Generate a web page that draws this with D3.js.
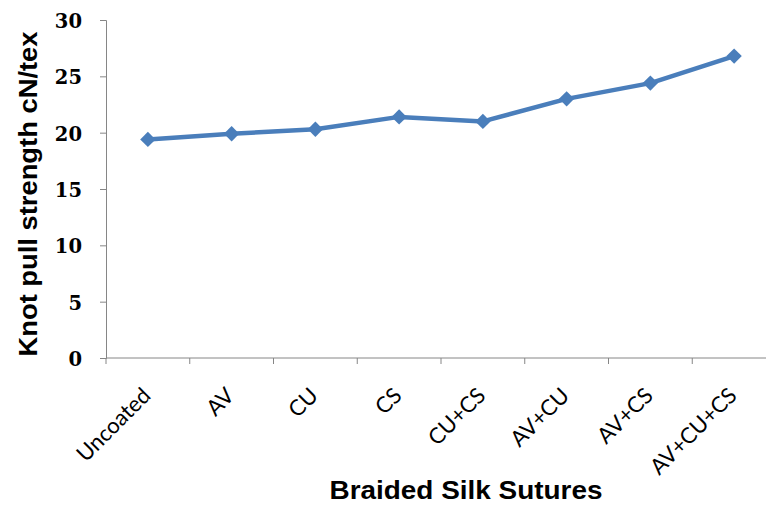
<!DOCTYPE html>
<html>
<head>
<meta charset="utf-8">
<script src="https://cdn.jsdelivr.net/npm/d3@7"></script>
<style>
  html, body { margin: 0; padding: 0; background: #fff; }
  svg { display: block; }
</style>
</head>
<body>
<svg id="chart" width="766" height="506"></svg>
<script>
// Knot pull strength of braided silk sutures by coating
const categories = ["Uncoated", "AV", "CU", "CS", "CU+CS", "AV+CU", "AV+CS", "AV+CU+CS"];
const strength = [19.4, 19.9, 20.3, 21.4, 21.0, 23.0, 24.4, 26.8];
const yTicks = [0, 5, 10, 15, 20, 25, 30];

const svg = d3.select("#chart");
const plotLeft = 106, plotTop = 20, plotBottom = 358, plotRight = 776;

const x = d3.scaleBand().domain(categories).range([plotLeft, plotRight]);
const y = d3.scaleLinear().domain([0, 30]).range([plotBottom, plotTop]);

const axisColor = "#868686";

// y axis
const yAxis = svg.append("g")
  .attr("transform", `translate(${plotLeft},0)`)
  .call(d3.axisLeft(y).tickValues(yTicks).tickSize(6).tickPadding(18));
yAxis.select(".domain").attr("stroke", axisColor);
yAxis.selectAll(".tick line").attr("stroke", axisColor);
yAxis.selectAll(".tick text")
  .attr("fill", "#000")
  .attr("dy", "0.38em")
  .style("font-family", "'DejaVu Serif', serif")
  .style("font-weight", "bold")
  .style("font-size", "19.5px");

// x axis with boundary ticks between categories
const xg = svg.append("g").attr("transform", `translate(0,${plotBottom})`);
xg.append("line").attr("x1", plotLeft).attr("x2", plotRight).attr("stroke", axisColor);
const bounds = categories.map(c => x(c)).concat([plotRight]);
xg.selectAll("line.tk").data(bounds).join("line")
  .attr("class", "tk")
  .attr("x1", d => d).attr("x2", d => d)
  .attr("y1", 0).attr("y2", 6)
  .attr("stroke", axisColor);
xg.selectAll("text.lbl").data(categories).join("text")
  .attr("class", "lbl")
  .attr("transform", d => `translate(${x(d) + x.bandwidth() / 2 + 4},${39}) rotate(-45)`)
  .attr("text-anchor", "end")
  .style("font-family", "Lato, 'Open Sans', sans-serif")
  .style("font-size", "22px")
  .attr("fill", "#000")
  .text(d => d);

// line and diamond markers
const cx = d => x(d) + x.bandwidth() / 2;
const lineColor = "#4a7ebb";
svg.append("path")
  .datum(categories.map((c, i) => [cx(c), y(strength[i])]))
  .attr("fill", "none")
  .attr("stroke", lineColor)
  .attr("stroke-width", 4.5)
  .attr("stroke-linejoin", "round")
  .attr("d", d3.line());

svg.selectAll("path.mk").data(categories).join("path")
  .attr("class", "mk")
  .attr("transform", (c, i) => `translate(${cx(c)},${y(strength[i])})`)
  .attr("d", d3.symbol(d3.symbolDiamond2, 150)())
  .attr("fill", lineColor);

// axis titles
svg.append("text")
  .attr("transform", `translate(37,194) rotate(-90)`)
  .attr("text-anchor", "middle")
  .attr("textLength", 325)
  .attr("lengthAdjust", "spacingAndGlyphs")
  .style("font-family", "'Liberation Sans', Arial, sans-serif")
  .style("font-weight", "bold")
  .style("font-size", "26px")
  .attr("fill", "#000")
  .text("Knot pull strength cN/tex");

svg.append("text")
  .attr("x", 466).attr("y", 499)
  .attr("text-anchor", "middle")
  .attr("textLength", 273)
  .attr("lengthAdjust", "spacingAndGlyphs")
  .style("font-family", "'Liberation Sans', Arial, sans-serif")
  .style("font-weight", "bold")
  .style("font-size", "25px")
  .attr("fill", "#000")
  .text("Braided Silk Sutures");
</script>
</body>
</html>
